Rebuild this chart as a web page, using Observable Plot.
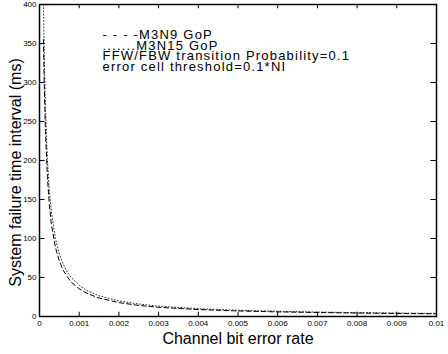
<!DOCTYPE html>
<html>
<head>
<meta charset="utf-8">
<script src="https://cdn.jsdelivr.net/npm/d3@7"></script>
<script src="https://cdn.jsdelivr.net/npm/@observablehq/plot@0.6"></script>
<style>
  html, body { margin: 0; padding: 0; background: #fff; }
  #chart svg { display: block; }
</style>
</head>
<body>
<div id="chart"></div>
<script>
// Channel bit error rate (x) samples
const ber = [0.0001, 0.00012, 0.00015, 0.0002, 0.00025, 0.0003, 0.0004, 0.0005, 0.0006, 0.0007, 0.0008, 0.001, 0.0012, 0.0015, 0.002, 0.0025, 0.003, 0.004, 0.005, 0.006, 0.007, 0.008, 0.009, 0.01];
// System failure time interval (ms), M3N9 GoP (dashed)
const m3n9 = [355, 296, 237, 178, 142, 118, 89, 71, 59, 51, 44, 35.5, 29.6, 23.7, 17.8, 14.2, 11.8, 8.9, 7.1, 5.9, 5.1, 4.4, 3.9, 3.5];
// System failure time interval (ms), M3N15 GoP (dotted)
const m3n15 = [400, 335, 268, 200, 160, 134, 100, 80, 67, 57, 50, 40, 33, 26.5, 20, 16, 13.3, 10, 8, 6.7, 5.7, 5, 4.4, 4.0];
// tick values and labels
const xTicks = [0, 0.001, 0.002, 0.003, 0.004, 0.005, 0.006, 0.007, 0.008, 0.009, 0.01];
const xTickLabels = ["0", "0.001", "0.002", "0.003", "0.004", "0.005", "0.006", "0.007", "0.008", "0.009", "0.01"];
const yTicks = [0, 50, 100, 150, 200, 250, 300, 350, 400];
const legendLines = ["- - - -M3N9 GoP", ".......M3N15 GoP", "FFW/FBW transition Probability=0.1", "error cell threshold=0.1*NI"];
const xLabel = "Channel bit error rate";
const yLabel = "System failure time interval (ms)";

const s9 = ber.map((x, i) => ({x, y: m3n9[i]}));
const s15 = ber.map((x, i) => ({x, y: m3n15[i]}));

const font = "'Liberation Sans', Arial, Helvetica, sans-serif";

const chart = Plot.plot({
  width: 448,
  height: 354,
  marginLeft: 39,
  marginRight: 12,
  marginTop: 4,
  marginBottom: 38,
  style: {fontFamily: font, background: "#fff", color: "#000"},
  x: {domain: [0, 0.01]},
  y: {domain: [0, 400]},
  marks: [
    Plot.line(s15, {x: "x", y: "y", stroke: "#333", strokeWidth: 1, strokeDasharray: "1,2.2"}),
    Plot.line(s9, {x: "x", y: "y", stroke: "#000", strokeWidth: 1, strokeDasharray: "4.5,3"}),
    // inward ticks on all four sides
    Plot.ruleX(xTicks, {x: d => d, y1: 0, y2: 5.5, stroke: "#000", strokeWidth: 1}),
    Plot.ruleX(xTicks, {x: d => d, y1: 394.5, y2: 400, stroke: "#000", strokeWidth: 1}),
    Plot.ruleY(yTicks, {y: d => d, x1: 0, x2: 0.00014, stroke: "#000", strokeWidth: 1}),
    Plot.ruleY(yTicks, {y: d => d, x1: 0.00986, x2: 0.01, stroke: "#000", strokeWidth: 1}),
    Plot.frame({stroke: "#000", strokeWidth: 1.5}),
    Plot.axisX({
      ticks: xTicks,
      tickSize: 0,
      tickPadding: 4,
      tickFormat: (d, i) => xTickLabels[i],
      fontSize: 8,
      label: null
    }),
    Plot.axisY({
      ticks: yTicks,
      tickSize: 0,
      tickPadding: 3,
      fontSize: 8,
      label: null
    }),
    Plot.text([xLabel], {
      text: d => d,
      frameAnchor: "bottom",
      textAnchor: "middle",
      dy: 27,
      lineAnchor: "bottom",
      fontSize: 16,
      fill: "#000"
    }),
    Plot.text([yLabel], {
      text: d => d,
      frameAnchor: "left",
      textAnchor: "middle",
      rotate: -90,
      dx: -18.5,
      dy: 12,
      lineAnchor: "bottom",
      fontSize: 16,
      fill: "#000"
    }),
    Plot.text([legendLines.join("\n")], {
      text: d => d,
      frameAnchor: "top-left",
      textAnchor: "start",
      lineAnchor: "top",
      lineHeight: 0.82,
      dx: 63,
      dy: 27,
      fontSize: 13,
      fill: "#000"
    })
  ]
});
d3.select(chart).selectAll("text")
  .filter(function() { return this.textContent.includes("GoP"); })
  .attr("letter-spacing", "1.2")
  .style("letter-spacing", "1.2px");
document.getElementById("chart").appendChild(chart);
</script>
</body>
</html>
